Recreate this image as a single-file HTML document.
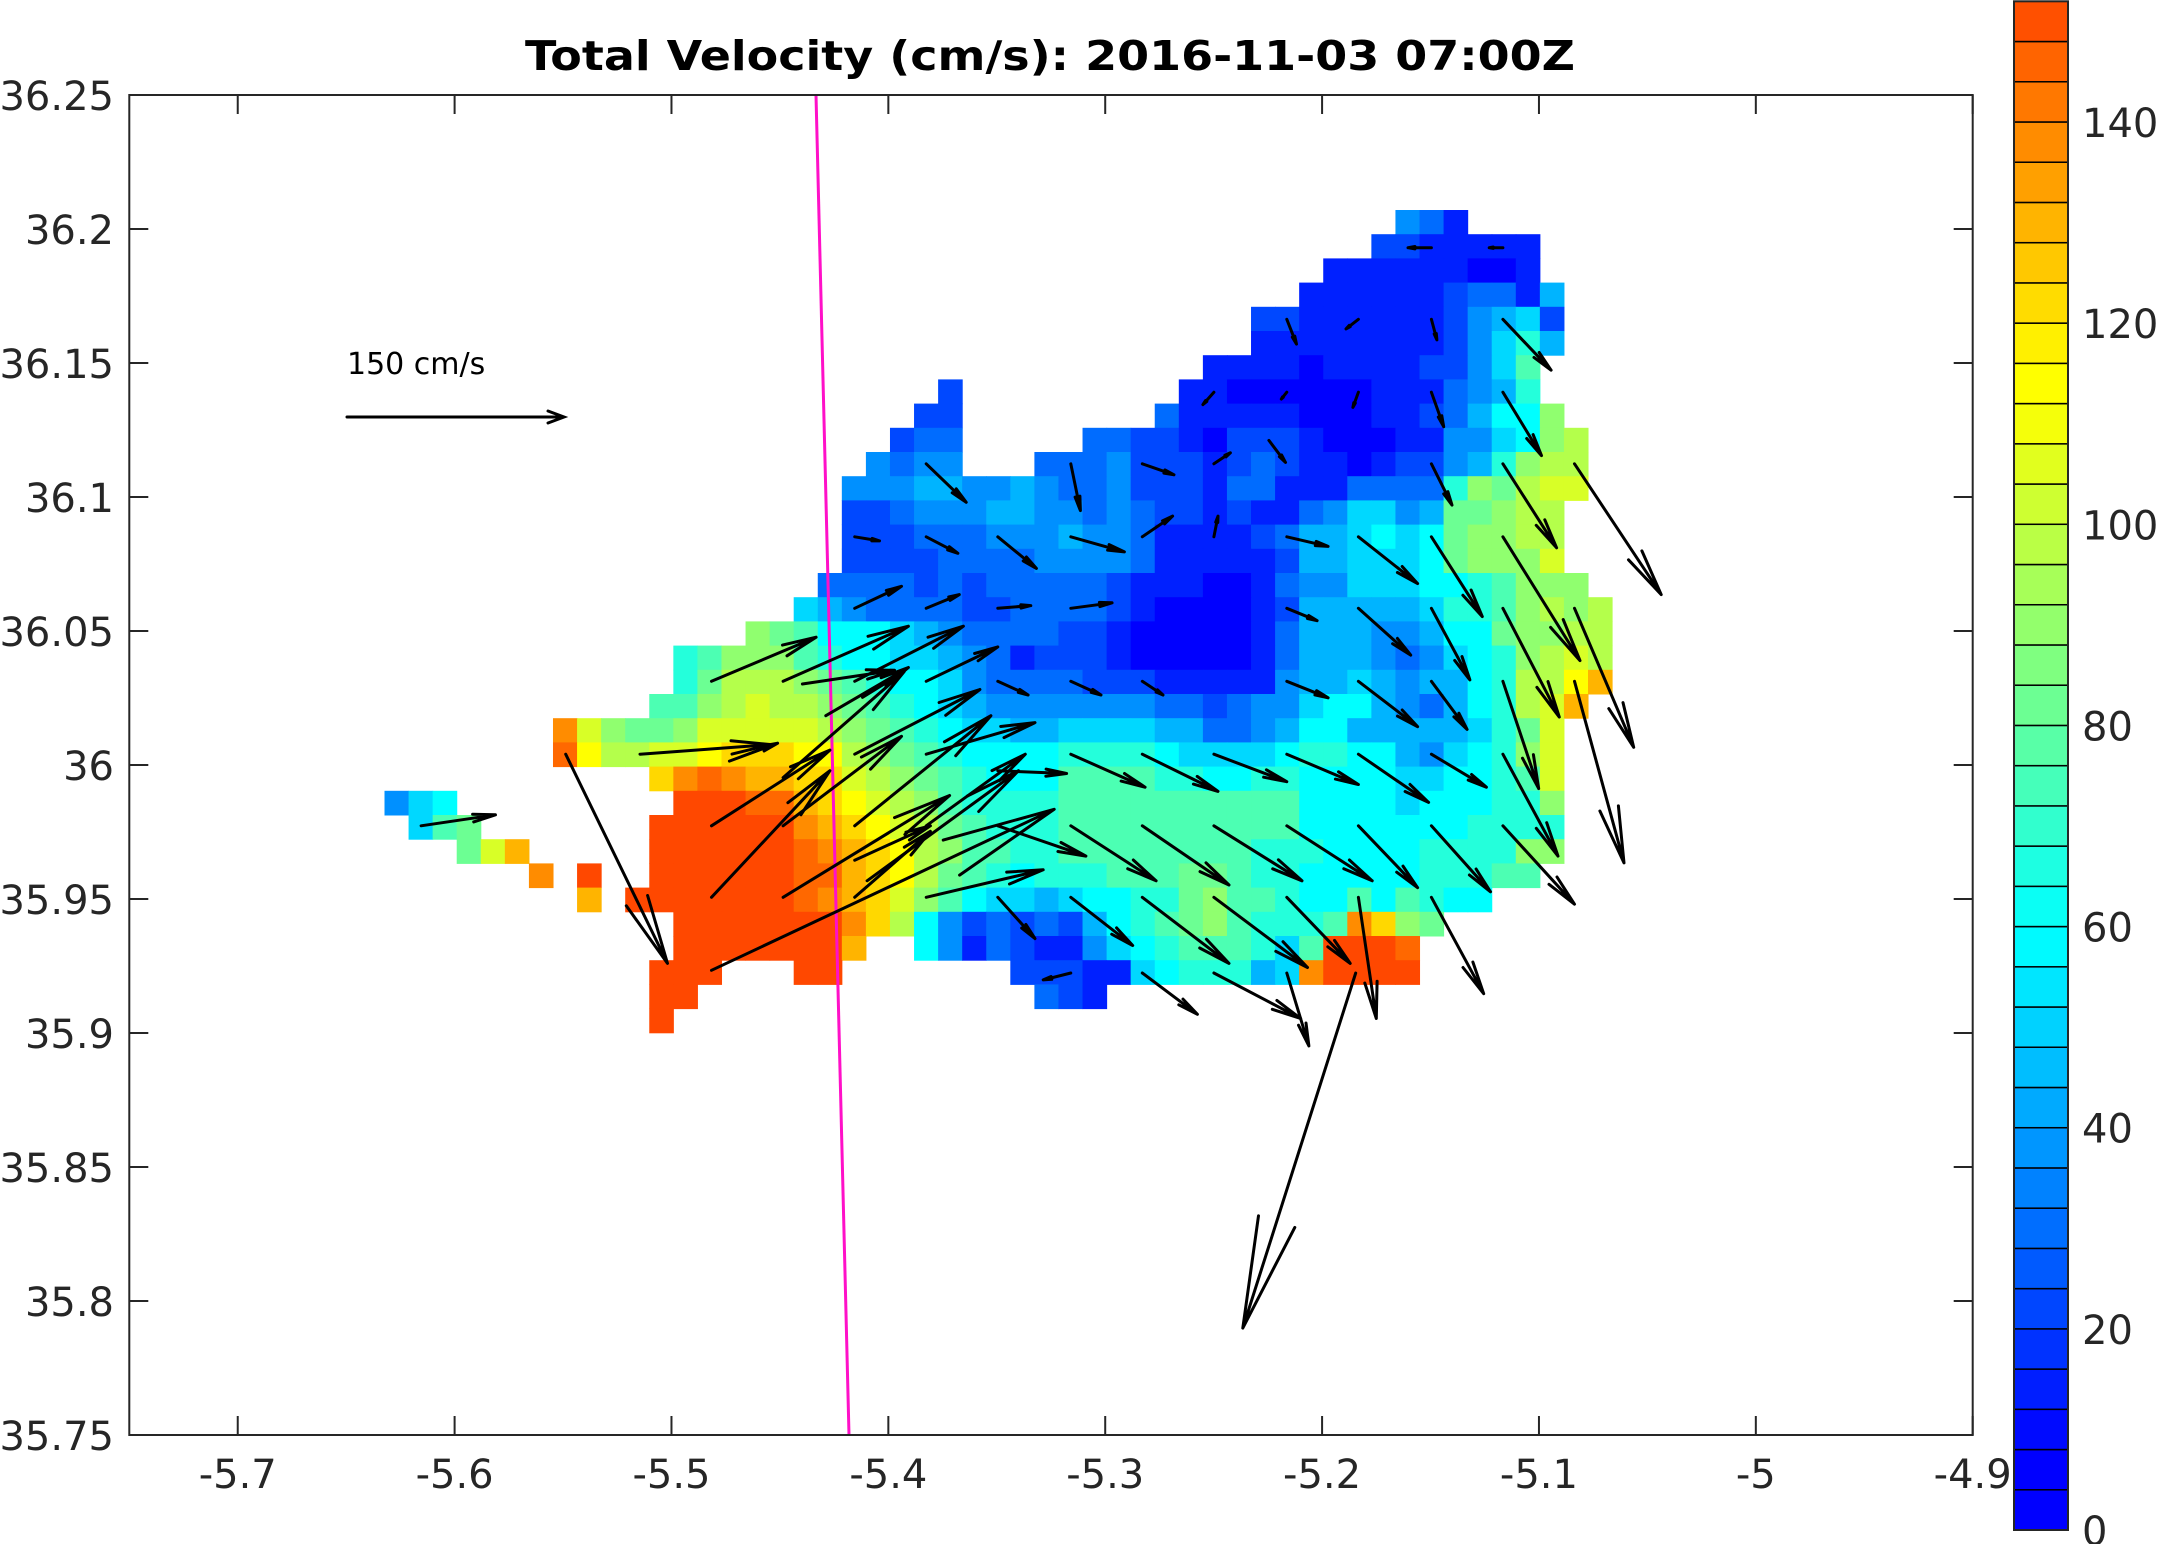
<!DOCTYPE html>
<html><head><meta charset="utf-8"><style>
html,body{margin:0;padding:0;background:#fff;}
svg{display:block;}
text{font-family:"DejaVu Sans","Liberation Sans",sans-serif;fill:#262626;}
</style></head><body>
<svg id="s" xmlns="http://www.w3.org/2000/svg" width="2158" height="1544" viewBox="0 0 2158 1544">
<rect width="2158" height="1544" fill="#fff"/>
<g id="cells"></g>
<line x1="816" y1="95" x2="849" y2="1435" stroke="#ff10c8" stroke-width="3"/>
<g id="arrows" stroke="#000" stroke-width="3" fill="none" stroke-linecap="round"></g>
<g id="axes" stroke="#262626" stroke-width="2" fill="none"></g>
<g id="labels"></g>
<text x="1050" y="70" text-anchor="middle" font-weight="bold" font-size="41" style="fill:#000" textLength="1050" lengthAdjust="spacingAndGlyphs">Total Velocity (cm/s): 2016-11-03 07:00Z</text>
<text x="347" y="374" font-size="30" style="fill:#000">150 cm/s</text>
<g id="cbar"></g>
</svg>
<script>
(function(){
var NS="http://www.w3.org/2000/svg";
function el(p,t,a){var e=document.createElementNS(NS,t);for(var k in a)e.setAttribute(k,a[k]);p.appendChild(e);return e;}
var pal={'0':'#0000ff','1':'#0020ff','2':'#0048ff','3':'#006cff','4':'#0090ff','5':'#00b4ff','6':'#00d8ff','7':'#00ffff','8':'#24ffdb','9':'#4cffb3','a':'#6cff93','b':'#90ff6f','c':'#b4ff4b','d':'#d8ff27','e':'#ffff00','f':'#ffd800','g':'#ffb400','h':'#ff8c00','i':'#ff6800','j':'#ff4800'};
var R={
0:[[42,"431"]],
1:[[41,"2211111"]],
2:[[39,"111111001"]],
3:[[38,"11111123315"]],
4:[[36,"2211111124562"]],
5:[[36,"1111111124685"]],
6:[[34,"11110111122469"]],
7:[[23,"2"],[33,"110000001113458"]],
8:[[22,"22"],[32,"3111110001123577b"]],
9:[[21,"233"],[29,"33221"],[34,"02221000114467bc"]],
10:[[20,"4344"],[27,"3334222"],[34,"1232110122458bcc"]],
11:[[19,"444554454334222"],[34,"13311133338bacdd"]],
12:[[19,"223444554434322"],[34,"1211346645aabcc"]],
13:[[19,"222333444544311"],[34,"1123556767abbcc"]],
14:[[19,"222233334444311"],[34,"1112556667abbbd"]],
15:[[18,"3333232333332111"],[34,"0013446667789bbb"]],
16:[[17,"65433332233332100"],[34,"0012555556889bcbc"]],
17:[[15,"ba97776543333221000"],[34,"001355544577abbcc"]],
18:[[12,"89bbb98776654312221000"],[34,"0013555434678bcdc"]],
19:[[12,"8acccba987764333322211"],[34,"1114556545578cceg"]],
20:[[11,"99bcdccba98765444444433"],[34,"2344677543578cdg"]],
21:[[7,"hdbaabddddd"],[18,"cba9876655666655"],[34,"3345775555568ad"]],
22:[[7,"ieccddefffeecba987777888876"],[34,"6667887754678bd"]],
23:[[11,"fhihggffdcba98777999988"],[34,"77887777667789d"]],
24:[[0,"467"],[12,"jjjiigfedcb98888999999"],[34,"99997777677788b"]],
25:[[1,"69a"],[11,"jjjjjjhgfedca9888999999"],[34,"999977777778888"]],
26:[[3,"adg"],[11,"jjjjjjihgfecb9988999999"],[34,"9988877778888bb"]],
27:[[6,"h"],[8,"j"],[11,"jjjjjjiigfeca98788899 9a".replace(/ /g,'')],[34,"a9887777788899"]],
28:[[8,"g"],[10,"jjjjjjjihgfdb9766567788a"],[34,"b99877979877"]],
29:[[12,"jjjjj"],[17,"jjhfc74232325789a"],[34,"b98889hfba"]],
30:[[12,"jjjjj"],[17,"jjg..741321146789"],[34,"99869jjji"]],
31:[[11,"jjj"],[17,"jj"],[26,"22211678"],[34,"8856hjjjj"]],
32:[[11,"jj"],[27,"321"]],
33:[[11,"j"]]
};
var cg=document.getElementById('cells');
for(var r in R){R[r].forEach(function(seg){var c0=seg[0],s=seg[1];for(var i=0;i<s.length;i++){var ch=s[i];if(!pal[ch])continue;var c=c0+i;
el(cg,'rect',{x:(384.5+24.07*c).toFixed(2),y:(210+24.2*r).toFixed(2),width:24.6,height:24.7,fill:pal[ch]});}});}
var A=[[1040,180,1023,180],[1092,180,1082,180],[935,232,942,250],[987,232,978,239],[1040,232,1044,247],[1092,232,1127,269],
[882,285,874,294],[935,285,931,290],[987,285,983,296],[1040,285,1049,310],[1092,285,1120,331],
[673,337,702,365],[778,337,785,371],[830,337,853,345],[882,337,894,329],[922,320,934,336],[1040,337,1055,367],[1092,337,1131,398],[1144,337,1207,432],
[621,390,639,393],[673,390,696,402],[725,390,753,413],[778,390,817,401],[830,390,852,375],[882,390,885,375],[935,390,965,397],[987,390,1030,424],[1040,390,1077,448],[1092,390,1148,480],
[621,442,655,426],[673,442,697,432],[725,442,749,440],[778,442,808,438],[935,442,957,451],[987,442,1025,476],[1040,442,1068,494],[1092,442,1133,521],[1144,442,1187,543],
[517,495,593,463],[569,495,660,455],[621,495,700,455],[673,495,725,470],[583,497,650,487],
[725,495,747,505],[778,495,800,505],[830,495,845,505],[935,495,965,507],[987,495,1030,528],[1040,495,1066,530],[1092,495,1118,573],[1144,495,1180,627],
[465,548,560,541],[530,553,565,540],[569,565,657,488],[621,548,712,501],[673,548,752,525],[600,520,660,485],
[778,548,832,572],[830,548,885,575],[882,548,935,568],[935,548,987,570],[987,548,1038,583],[1040,548,1080,572],[1092,548,1132,622],
[517,600,603,545],[569,600,655,535],[621,600,720,520],[673,600,745,548],[725,560,775,562],[725,600,789,622],
[778,600,840,640],[830,600,893,643],[882,600,946,640],[935,600,997,640],[987,600,1030,645],[1040,600,1083,648],[1092,600,1144,657],
[517,652,603,560],[569,652,690,578],[621,652,676,604],[673,652,758,632],[621,625,676,600],[517,705,766,588],[630,640,740,560],
[411,548,485,700],[306,600,360,592],
[725,652,752,682],[778,652,823,687],[830,652,893,700],[882,652,950,703],[935,652,981,700],[987,652,1000,740],[1040,652,1078,722],
[778,707,758,712],[830,707,870,737],[882,707,945,740],[935,707,951,760],[985,707,903,965]];
var ag=document.getElementById('arrows'),k=1.3763;
A.forEach(function(a){var x1=a[0]*k,y1=a[1]*k,x2=a[2]*k,y2=a[3]*k,u=x2-x1,v=y2-y1,al=0.3,be=0.17;
var d="M"+x1.toFixed(1)+","+y1.toFixed(1)+"L"+x2.toFixed(1)+","+y2.toFixed(1);
var hx1=x2-al*(u+be*v),hy1=y2-al*(v-be*u);
var hx2=x2-al*(u-be*v),hy2=y2-al*(v+be*u);
d+="M"+hx1.toFixed(1)+","+hy1.toFixed(1)+"L"+x2.toFixed(1)+","+y2.toFixed(1)+"L"+hx2.toFixed(1)+","+hy2.toFixed(1);
el(ag,'path',{d:d});});
el(ag,'path',{d:"M347,417L564,417M548,411L564,417L548,423"});
var ax=document.getElementById('axes'),lb=document.getElementById('labels');
var L=129.3,Rr=1972.7,T=95,B=1435;
el(ax,'rect',{x:L,y:T,width:Rr-L,height:B-T});
var xt=[-5.7,-5.6,-5.5,-5.4,-5.3,-5.2,-5.1,-5,-4.9];
xt.forEach(function(v){var x=L+(v+5.75)*2168.7;el(ax,'line',{x1:x,y1:B,x2:x,y2:B-19});el(ax,'line',{x1:x,y1:T,x2:x,y2:T+19});
var t=el(lb,'text',{x:x,y:1488,'text-anchor':'middle','font-size':40});t.textContent=String(v);});
for(var i=0;i<=10;i++){var v=35.75+0.05*i,y=B-(v-35.75)*2680;el(ax,'line',{x1:L,y1:y,x2:L+19,y2:y});el(ax,'line',{x1:Rr,y1:y,x2:Rr-19,y2:y});
var s=(Math.round(v*100)/100).toString();var t=el(lb,'text',{x:114,y:y+15,'text-anchor':'end','font-size':40});t.textContent=s;}
var cb=document.getElementById('cbar'),cbTop=1.3,bot=1530,n=38,h=(bot-cbTop)/n;
function cl(x){return Math.max(0,Math.min(255,Math.round(x)));}
for(var j=0;j<n;j++){var kk=j;var G=kk<28.25?cl((kk-1.5)*20):cl(255-(kk-28.25)*20);var Rc=cl((kk-14.5)*19.6);var Bc=cl(255-(kk-14.5)*19.6);
el(cb,'rect',{x:2014,y:(bot-(j+1)*h).toFixed(2),width:54,height:h.toFixed(2),fill:'rgb('+Rc+','+G+','+Bc+')',stroke:'#000','stroke-width':1.5});}
el(cb,'rect',{x:2014,y:cbTop,width:54,height:bot-cbTop,fill:'none',stroke:'#262626','stroke-width':2});
for(var v2=0;v2<=140;v2+=20){var y2=bot-v2/152*(bot-cbTop);var t2=el(cb,'text',{x:2082,y:y2+15,'font-size':40});t2.textContent=v2;}
})();
</script>
</body></html>
